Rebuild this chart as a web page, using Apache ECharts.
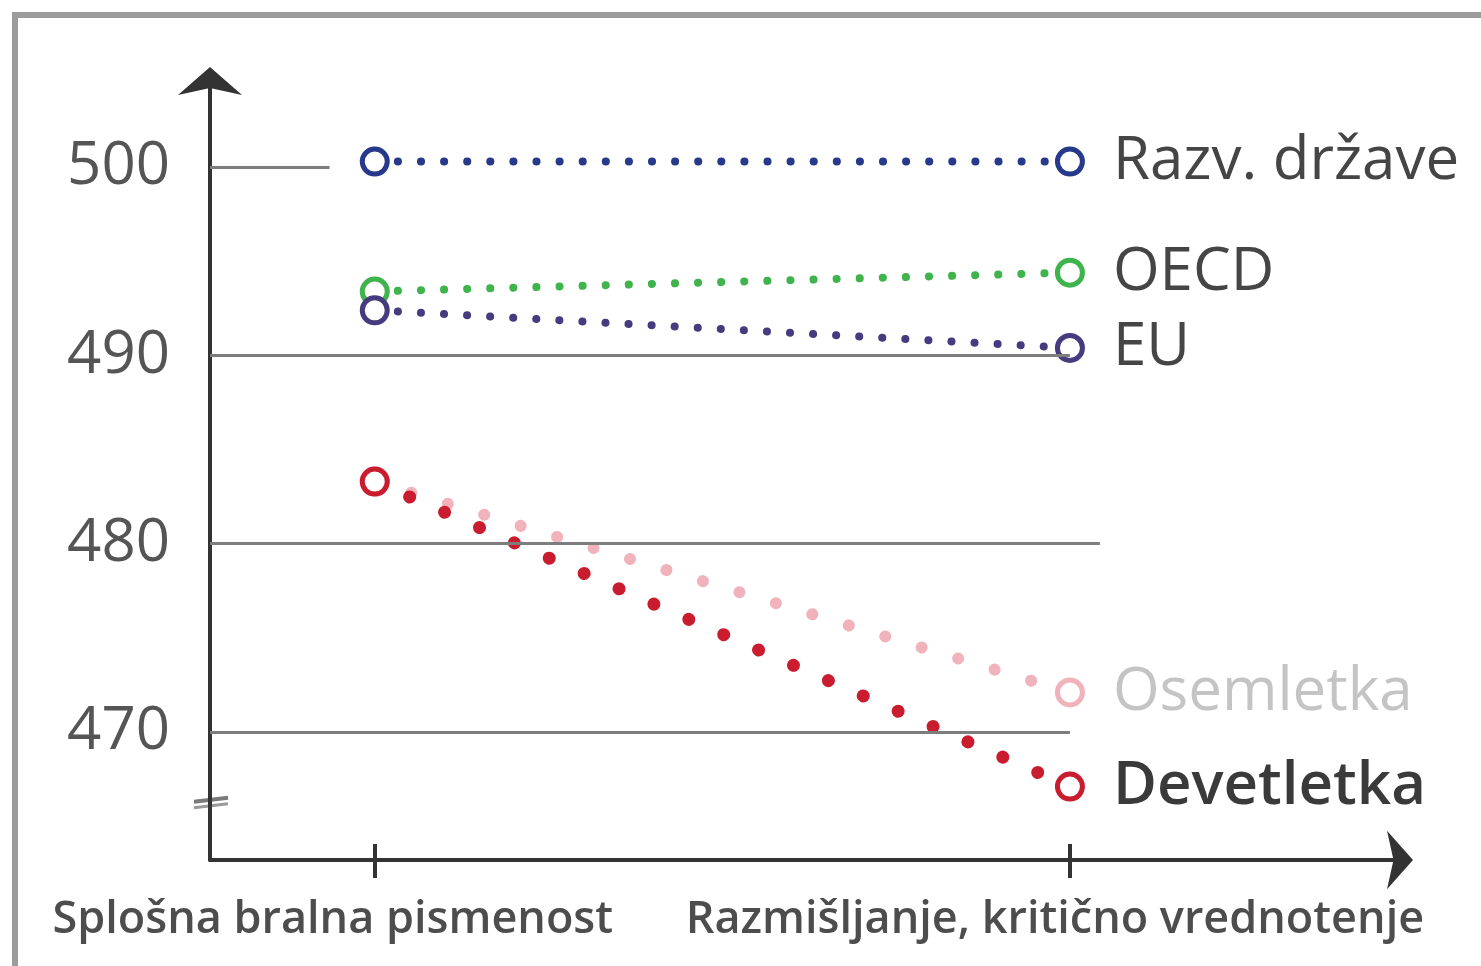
<!DOCTYPE html>
<html lang="sl" style="height: 100%">
<head>
    <meta charset="UTF-8">
    <title>PISA</title>
    <script src="https://cdn.jsdelivr.net/npm/echarts@6/dist/echarts.min.js"></script>
</head>
<body style="height: 100%; margin: 0; background: #fff">
<div id="container" style="width: 1481px; height: 966px"></div>

<script type="text/javascript">
    // x: 0 = first category, 1 = second category
    var categories = ['Splošna bralna pismenost', 'Razmišljanje, kritično vrednotenje'];
    var seriesNames = ['Razv. države', 'OECD', 'EU', 'Osemletka', 'Devetletka'];
    var razvDrzave = [500.3, 500.3];
    var oecd = [493.4, 494.4];
    var eu = [492.4, 490.4];
    var osemletka = [483.3, 472.1];
    var devetletka = [483.3, 467.1];
    var yTicks = [470, 480, 490, 500];
    var gridLineEnds = [1.0, 1.043, 1.0, -0.065];

    var X_MIN = -0.237, X_MAX = 1.482;

    var dom = document.getElementById('container');
    var myChart = echarts.init(dom, null, {renderer: 'canvas'});

    function pts(arr) {
        return arr.map(function (v, i) { return [i, v]; });
    }

    var labelStyles = [
        {color: '#454545', fontWeight: 'normal'},
        {color: '#454545', fontWeight: 'normal'},
        {color: '#454545', fontWeight: 'normal'},
        {color: '#c4c4c4', fontWeight: 'normal'},
        {color: '#3a3a3a', fontWeight: 600}
    ];
    var colors = ['#27398a', '#3fb34c', '#473b80', '#f1b3bb', '#c91d2f'];
    var dots = [
        {width: 8, gap: 23},
        {width: 8, gap: 23},
        {width: 8, gap: 23},
        {width: 12, gap: 38},
        {width: 13, gap: 38}
    ];
    var values = [razvDrzave, oecd, eu, osemletka, devetletka];

    var series = seriesNames.map(function (name, k) {
        return {
            name: name,
            type: 'line',
            data: pts(values[k]),
            symbol: 'circle',
            symbolSize: 25,
            z: k === 3 ? 2 : 3,
            itemStyle: {color: '#fff', borderColor: colors[k], borderWidth: 5},
            lineStyle: {
                color: colors[k],
                width: dots[k].width,
                type: [0.1, dots[k].gap],
                cap: 'round'
            },
            label: {
                show: true,
                position: 'right',
                distance: 28,
                fontFamily: 'Open Sans',
                fontSize: 60,
                color: labelStyles[k].color,
                fontWeight: labelStyles[k].fontWeight,
                formatter: function (p) {
                    return p.dataIndex === 1 ? name : '';
                }
            },
            emphasis: {disabled: true}
        };
    });

    series.push({
        type: 'line',
        data: [],
        silent: true,
        z: 1,
        markLine: {
            silent: true,
            symbol: 'none',
            label: {show: false},
            lineStyle: {color: '#7d7d7d', width: 3, type: 'solid'},
            data: yTicks.map(function (v, i) {
                return [{coord: [X_MIN, v]}, {coord: [gridLineEnds[i], v]}];
            })
        }
    });

    var labelRich = {fontFamily: 'Open Sans', fontWeight: 600, fontSize: 45, color: '#4d4d4d'};

    var option = {
        animation: false,
        grid: {left: 210, right: 76, top: 75, bottom: 106},
        xAxis: [{
            type: 'value',
            min: X_MIN,
            max: X_MAX,
            splitLine: {show: false},
            axisLine: {
                onZero: false,
                lineStyle: {color: '#333', width: 4},
                symbol: ['none', 'arrow'],
                symbolSize: [44, 26],
                symbolOffset: [0, 8]
            },
            axisTick: {
                show: true,
                customValues: [0, 1],
                length: 18,
                lineStyle: {color: '#333', width: 4}
            },
            axisLabel: {
                customValues: [0, 1],
                margin: 38,
                formatter: function (v) {
                    return v === 0 ? '{a|' + categories[0] + '}' : '{b|' + categories[1] + '}';
                },
                rich: {
                    a: Object.assign({padding: [0, 84, 0, 0]}, labelRich),
                    b: Object.assign({padding: [0, 30, 0, 0]}, labelRich)
                }
            }
        }, {
            type: 'value',
            min: X_MIN,
            max: X_MAX,
            position: 'bottom',
            splitLine: {show: false},
            axisLine: {show: false, onZero: false},
            axisLabel: {show: false},
            axisTick: {
                show: true,
                inside: true,
                customValues: [0, 1],
                length: 16,
                lineStyle: {color: '#333', width: 4}
            }
        }],
        yAxis: {
            type: 'value',
            min: 463.2,
            max: 504.9,
            splitLine: {show: false},
            axisLine: {
                show: true,
                onZero: false,
                lineStyle: {color: '#333', width: 4},
                symbol: ['none', 'arrow'],
                symbolSize: [48, 28],
                symbolOffset: [0, 8]
            },
            axisTick: {show: false},
            axisLabel: {
                customValues: yTicks,
                margin: 40,
                fontFamily: 'Open Sans',
                fontSize: 60,
                color: '#555'
            }
        },
        series: series
    };
    myChart.setOption(option, true);

    // axis break mark on the y axis
    var bp = myChart.convertToPixel({gridIndex: 0}, [X_MIN, 466.4]);
    myChart.setOption({
        graphic: [{
            type: 'rect',
            shape: {x: 15, y: 15, width: 1520, height: 1000},
            style: {fill: 'none', stroke: '#9c9c9c', lineWidth: 6},
            silent: true
        }, {
            type: 'group',
            silent: true,
            children: [
                {type: 'line', shape: {x1: bp[0] - 16, y1: bp[1] + 2, x2: bp[0] + 18, y2: bp[1] - 2},
                    style: {stroke: '#7a7a7a', lineWidth: 4}},
                {type: 'line', shape: {x1: bp[0] - 16, y1: bp[1] + 8, x2: bp[0] + 18, y2: bp[1] + 4},
                    style: {stroke: '#9a9a9a', lineWidth: 3}}
            ]
        }]
    });
</script>
</body>
</html>
